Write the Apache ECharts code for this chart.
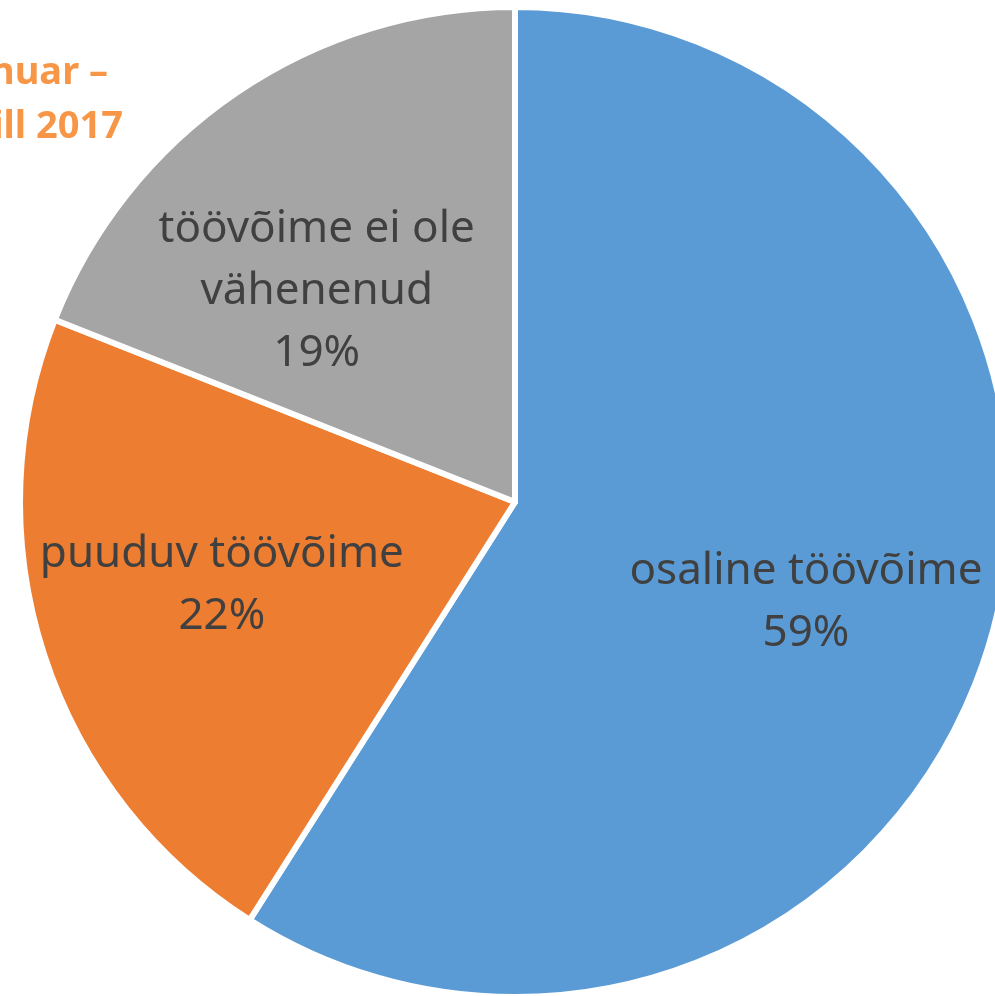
<!DOCTYPE html>
<html>
<head>
    <meta charset="utf-8">
    <title>Töövõime</title>
    <script src="https://cdn.jsdelivr.net/npm/echarts@6/dist/echarts.min.js"></script>
    <style>
        html, body {
            margin: 0;
            padding: 0;
            background: #ffffff;
        }

        #chart {
            width: 995px;
            height: 996px;
        }
    </style>
</head>
<body>
<div id="chart"></div>
<script>
    // andmed
    var categories = ['osaline töövõime', 'puuduv töövõime', 'töövõime ei ole\nvähenenud'];
    var shares = [59, 22, 19];
    var colors = ['#5B9BD5', '#ED7D31', '#A5A5A5'];
    var titleLines = ['Jaanuar –', 'aprill 2017'];

    var pieData = categories.map(function (name, i) {
        return {name: name, value: shares[i], itemStyle: {color: colors[i]}};
    });

    // Excel nihutab halli sildi veidi allapoole
    var labelShift = [[0, 16], [-5, -10], [-28, 40]];

    var titleStyle = {
        color: '#F79646',
        fontFamily: '"Liberation Sans Narrow", "Noto Sans"',
        fontWeight: 'bold',
        fontSize: 38
    };

    var chart = echarts.init(document.getElementById('chart'), null, {renderer: 'canvas'});

    var option = {
        backgroundColor: '#ffffff',
        animation: false,
        title: [
            {text: titleLines[0], right: 887, top: 54, padding: 0, textStyle: titleStyle},
            {text: titleLines[1], right: 872, top: 108, padding: 0, textStyle: titleStyle}
        ],
        series: [
            {
                // sektorid
                type: 'pie',
                center: [515, 502],
                radius: [0, 495],
                startAngle: 90,
                clockwise: true,
                silent: true,
                itemStyle: {borderColor: '#ffffff', borderWidth: 6},
                label: {show: false},
                labelLine: {show: false},
                data: pieData
            },
            {
                // ainult sildid
                type: 'pie',
                center: [515, 502],
                radius: [105, 495],
                startAngle: 90,
                clockwise: true,
                silent: true,
                itemStyle: {color: 'rgba(0,0,0,0)', borderWidth: 0},
                label: {
                    show: true,
                    position: 'inside',
                    formatter: '{b}\n{d}%',
                    color: '#404040',
                    fontFamily: 'Noto Sans',
                    fontSize: 44,
                    lineHeight: 62,
                    align: 'center'
                },
                labelLine: {show: false},
                data: categories.map(function (name, i) {
                    return {name: name, value: shares[i], label: {offset: labelShift[i]}};
                })
            }
        ]
    };
    chart.setOption(option);
</script>
</body>
</html>
